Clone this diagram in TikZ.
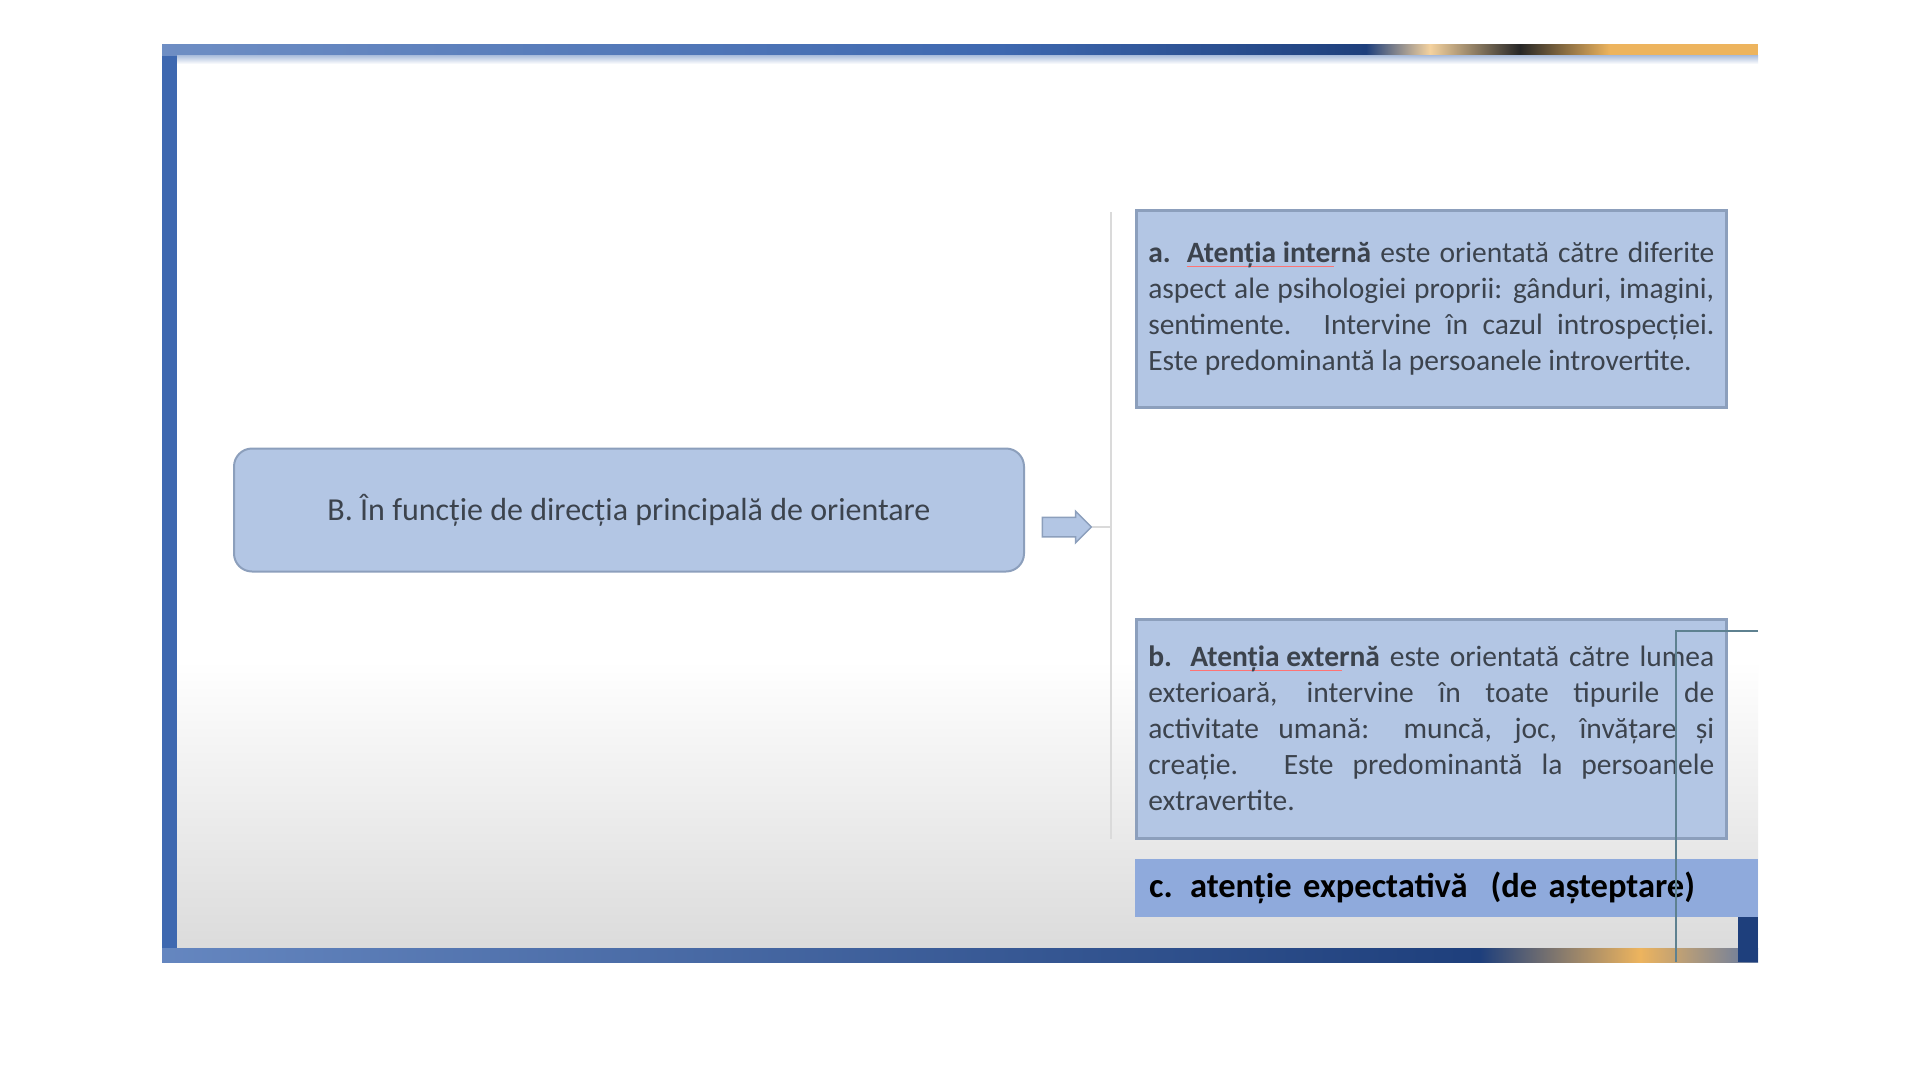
\documentclass[tikz,border=0pt]{standalone}
\usepackage{fontspec}
\setmainfont{Carlito}
\usetikzlibrary{positioning}
\usetikzlibrary{shapes.arrows}
\usetikzlibrary{calc}

\definecolor{boxfill}{HTML}{B3C6E4}
\definecolor{boxline}{HTML}{8C9FBC}
\definecolor{cfill}{HTML}{8FAADC}
\definecolor{txtgrey}{HTML}{3C434D}
\definecolor{frameblue}{HTML}{3E68B0}
\definecolor{framenavy}{HTML}{1E3F7C}
\definecolor{frameorange}{HTML}{EDB45E}
\definecolor{tealline}{HTML}{5E8190}
\definecolor{spinegrey}{HTML}{DADADA}

\newsavebox{\spellbox}
\newcommand{\spellmark}[1]{\sbox{\spellbox}{#1}%
  \rlap{\textcolor{red!55}{\rule[-0.3ex]{0.8\wd\spellbox}{1.3pt}}}\usebox{\spellbox}}

\tikzset{
  topicbox/.style={draw=boxline, line width=2pt, fill=boxfill, rounded corners=18pt,
    minimum width=790pt, minimum height=123pt, text=txtgrey,
    font=\fontsize{32}{38}\selectfont},
  itembox/.style={draw=boxline, line width=2.5pt, fill=boxfill, anchor=north west,
    text width=566pt, inner xsep=12pt, inner ysep=0pt, align=justify, text=txtgrey,
    font=\fontsize{29.5}{36}\selectfont},
  notebox/.style={fill=cfill, anchor=north west, minimum width=623pt, minimum height=58pt,
    text width=595pt, inner xsep=14pt, align=left,
    font=\fontsize{34.5}{40}\selectfont\bfseries},
  pointer/.style={single arrow, draw=boxline, line width=1.5pt, fill=boxfill,
    minimum height=49pt, minimum width=31pt, single arrow head extend=6pt,
    inner xsep=0pt, inner ysep=9pt},
}

\begin{document}
\begin{tikzpicture}[x=1pt, y=-1pt]

\useasboundingbox (0, 0) rectangle (1920, 1080);

% screen frame
\fill [white] (0, 0) rectangle (1920, 1080);
\shade [top color=white, bottom color=black!14] (176, 660) rectangle (1758, 948);
\fill [frameblue] (162, 44) rectangle (177, 962);
\shade [left color=frameblue!75, right color=frameblue] (162, 44) rectangle (1000, 55);
\shade [left color=frameblue, right color=framenavy] (1000, 44) rectangle (1366, 55);
\shade [left color=framenavy, right color=frameorange!60] (1366, 44) rectangle (1430, 55);
\shade [left color=frameorange!60, right color=black!85] (1430, 44) rectangle (1520, 55);
\shade [left color=black!85, right color=frameorange] (1520, 44) rectangle (1610, 55);
\fill [frameorange] (1610, 44) rectangle (1758, 55);
\shade [top color=frameblue!45, bottom color=white] (177, 55) rectangle (1758, 64);
\shade [left color=frameblue!80, right color=framenavy] (162, 948) rectangle (1480, 962);
\shade [left color=framenavy, right color=frameorange] (1480, 948) rectangle (1640, 962);
\shade [left color=frameorange, right color=framenavy!70] (1640, 948) rectangle (1758, 962);
\fill [framenavy] (1738, 917) rectangle (1758, 962);

% diagram
\node [topicbox] (main) at (629, 510) {B. În funcție de direcția principală de orientare};

\node [pointer] (arrow) at (1062, 527) {};

\coordinate (spinetop) at (1111, 212);
\coordinate (spinebot) at (1111, 839);
\draw [spinegrey, line width=2pt] (spinetop) -- (spinebot);
\draw [spinegrey, line width=1.5pt] (arrow.east) -- (arrow.east -| spinetop);

\node [itembox, minimum height=197pt] (itema) at (1135, 209)
{\textbf{a. \spellmark{Atenția internă}} este orientată către diferite\linebreak
aspect ale psihologiei proprii: gânduri, imagini,\linebreak
sentimente. Intervine în cazul introspecției.\linebreak
Este predominantă la persoanele introvertite.};

\node [itembox, minimum height=219pt] (itemb) at (1135, 618)
{\textbf{b. \spellmark{Atenția externă}} este orientată către lumea\linebreak
exterioară, intervine în toate tipurile de\linebreak
activitate umană: muncă, joc, învățare și\linebreak
creație. Este predominantă la persoanele\linebreak
extravertite.};

\node [notebox] (itemc) at (1135, 859) {c. atenție expectativă~~(de așteptare)};

% stray window edge
\coordinate (edgeend) at (1758, 631);
\draw [tealline, line width=2pt] (edgeend) -- (1676, 631) -- (1676, 962);

\end{tikzpicture}
\end{document}
